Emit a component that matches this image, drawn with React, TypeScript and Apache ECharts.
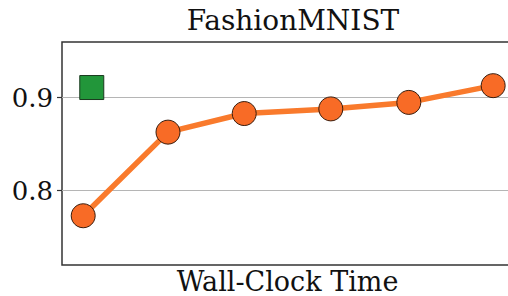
import React, { useEffect, useRef } from "react";
import * as echarts from "echarts";

const titleText = "FashionMNIST";
const xAxisName = "Wall-Clock Time";
const wallClockTime = [4.7, 23.5, 40.4, 59.6, 76.9, 95.6];
const accuracy = [0.773, 0.863, 0.883, 0.888, 0.895, 0.913];
const baselineTime = [6.6];
const baselineAccuracy = [0.911];
const yTickValues = [0.8, 0.9];

const FONT = "'DejaVu Serif', serif";

export default function App() {
  const ref = useRef<HTMLDivElement>(null);
  useEffect(() => {
    if (!ref.current) return;
    const chart = echarts.init(ref.current, undefined, { renderer: "svg" });
    chart.setOption({
      animation: false,
      backgroundColor: "#ffffff",
      title: {
        text: titleText,
        left: 288,
        top: 1,
        textAlign: "center",
        textStyle: { fontFamily: FONT, fontSize: 28, fontWeight: "normal", color: "#111" },
      },
      grid: {
        left: 62,
        top: 42,
        right: -5,
        bottom: 31,
        outerBoundsMode: "none",
        containLabel: false,
        show: true,
        borderColor: "#333",
        borderWidth: 1.5,
        backgroundColor: "transparent",
      },
      xAxis: {
        type: "value",
        min: 0,
        max: 100,
        name: xAxisName,
        nameLocation: "middle",
        nameGap: 3,
        nameTextStyle: { fontFamily: FONT, fontSize: 27, color: "#111", verticalAlign: "top" },
        axisLine: { show: false },
        axisTick: { show: false },
        axisLabel: { show: false },
        splitLine: { show: false },
      },
      yAxis: {
        type: "value",
        min: 0.72,
        max: 0.96,
        axisLine: { show: false },
        axisTick: {
          show: true,
          length: 5,
          customValues: yTickValues,
          lineStyle: { color: "#333", width: 1.2 },
        },
        axisLabel: {
          show: true,
          customValues: yTickValues,
          margin: 9,
          fontFamily: FONT,
          fontSize: 26,
          color: "#111",
          formatter: (v: number) => v.toFixed(1),
        },
        splitLine: { show: false },
      },
      series: [
        {
          type: "line",
          z: 3,
          data: wallClockTime.map((x, i) => [x, accuracy[i]]),
          lineStyle: { color: "#f97a2c", width: 5.5 },
          symbol: "circle",
          symbolSize: 24,
          itemStyle: { color: "#f86b26", borderColor: "#3a1c0c", borderWidth: 1 },
          markLine: {
            z: 1,
            silent: true,
            symbol: "none",
            label: { show: false },
            lineStyle: { color: "#b5b5b5", width: 1.2, type: "solid" },
            data: yTickValues.map((v) => ({ yAxis: v })),
          },
        },
        {
          type: "scatter",
          z: 4,
          data: baselineTime.map((x, i) => [x, baselineAccuracy[i]]),
          symbol: "rect",
          symbolSize: 24,
          itemStyle: { color: "#22963a", opacity: 1, borderColor: "#1b3a1f", borderWidth: 1 },
        },
      ],
    });
    return () => chart.dispose();
  }, []);
  return (
    <div
      ref={ref}
      style={{ position: "absolute", left: 0, top: 0, width: 508, height: 296 }}
    />
  );
}
